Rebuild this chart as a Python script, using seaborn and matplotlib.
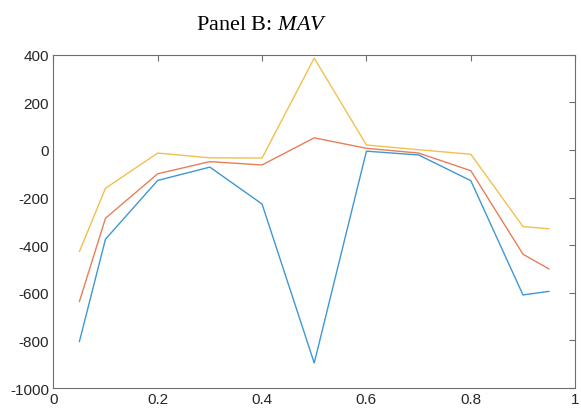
import matplotlib
matplotlib.use("Agg")
import matplotlib.pyplot as plt
import seaborn as sns
import pandas as pd

# values
x_vals = [0.05, 0.1, 0.2, 0.3, 0.4, 0.5, 0.6, 0.7, 0.8, 0.9, 0.95]
blue_vals = [-805, -375, -128, -72, -227, -895, -5, -21, -129, -609, -594]
red_vals = [-637, -287, -100, -49, -63, 51, 7, -13, -87, -438, -500]
yellow_vals = [-427, -161, -13, -33, -34, 386, 21, 1, -18, -322, -331]
series_names = ["s1", "s2", "s3"]
colors = ["#3f97d4", "#e67f58", "#f0c14f"]

y_ticks = [400, 200, 0, -200, -400, -600, -800, -1000]
x_ticks = [0, 0.2, 0.4, 0.6, 0.8, 1]
x_tick_labels = ["0", "0.2", "0.4", "0.6", "0.8", "1"]

df = pd.concat([
    pd.DataFrame({"x": x_vals, "y": vals, "series": name})
    for name, vals in zip(series_names, [blue_vals, red_vals, yellow_vals])
])

sns.set_style("white")
plt.rcParams["font.family"] = ["Liberation Sans", "DejaVu Sans"]
plt.rcParams["mathtext.fontset"] = "custom"
plt.rcParams["mathtext.it"] = "Liberation Serif:italic"
plt.rcParams["mathtext.rm"] = "Liberation Serif"

fig = plt.figure(figsize=(5.81, 4.10), dpi=100)
ax = fig.add_axes([0.0917, 0.0512, 0.8983, 0.8128])

sns.lineplot(data=df, x="x", y="y", hue="series", palette=colors,
             linewidth=1.0, legend=False, ax=ax, sort=False)

ax.set_xlim(0, 1)
ax.set_ylim(-1000, 400)
ax.set_xticks(x_ticks)
ax.set_xticklabels(x_tick_labels)
ax.set_yticks(y_ticks)
ax.set_yticklabels([str(v) for v in y_ticks])
ax.set_xlabel("")
ax.set_ylabel("")

for sp in ax.spines.values():
    sp.set_visible(True)
    sp.set_color("#6e6e6e")
    sp.set_linewidth(0.8)
ax.tick_params(direction="in", length=4, width=0.8, color="#6e6e6e",
               top=True, right=True, labelsize=11, labelcolor="#262626", pad=3)

fig.text(0.45, 0.938, r"Panel B: $\mathit{MAV}$", ha="center", va="center",
         fontsize=16, family="Liberation Serif", color="black")

fig.savefig("out.png", dpi=100)
